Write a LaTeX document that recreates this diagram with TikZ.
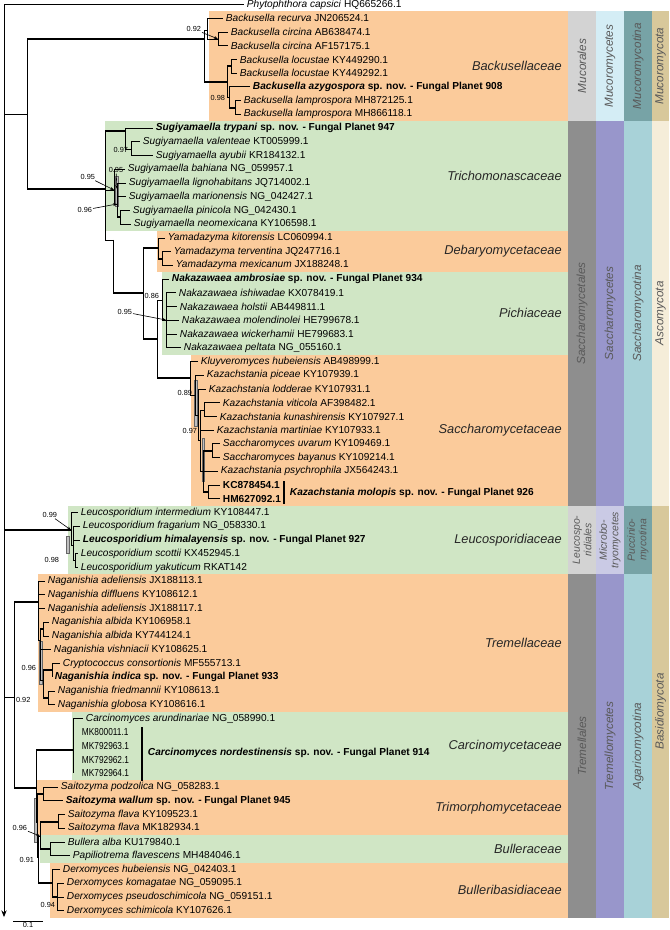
\documentclass[tikz,border=0pt]{standalone}
\usepackage{fontspec}
\setmainfont{Liberation Sans}
\usepackage{graphicx}
\usetikzlibrary{arrows.meta,calc}
\definecolor{famorange}{HTML}{FBCB9B}
\definecolor{famgreen}{HTML}{D0E6C5}
\definecolor{ordlight}{HTML}{D3D3D3}
\definecolor{orddark}{HTML}{8E8E8E}
\definecolor{clsblue}{HTML}{D4EDF5}
\definecolor{clspurple}{HTML}{9896CB}
\definecolor{clslav}{HTML}{CACAE5}
\definecolor{subdark}{HTML}{77A3A6}
\definecolor{sublight}{HTML}{A8D2D8}
\definecolor{phytan}{HTML}{D8C89B}
\definecolor{phycream}{HTML}{F5EDD9}
\newcommand{\narrowacc}[1]{\scalebox{0.82}[1]{#1}}
\tikzset{
  br/.style={line width=0.6pt,draw=black},
  thk/.style={line width=2pt,draw=black},
  leaf/.style={anchor=west,font=\fontsize{7.6}{9}\selectfont,inner xsep=2pt,inner ysep=0pt},
  fam/.style={anchor=east,font=\fontsize{9.6}{11}\selectfont\itshape,text=black!85,inner sep=0pt},
  ranklab/.style={rotate=90,font=\fontsize{8.8}{10}\selectfont\itshape,text=black!65,inner sep=0pt},
  ranksmall/.style={rotate=90,align=center,font=\fontsize{7.8}{8.6}\selectfont\itshape,text=black!65,inner sep=0pt},
  sup/.style={font=\fontsize{5.5}{6}\selectfont,inner sep=0.6pt},
  suparr/.style={-{Stealth[length=3pt,width=2.2pt]},line width=0.45pt},
  nbar/.style={draw=black!60,fill=gray!50,line width=0.3pt},
  clbar/.style={line width=2.2pt,draw=black},
}
\begin{document}
\begin{tikzpicture}[x=0.75pt,y=-0.75pt]
\useasboundingbox (0,0) rectangle (669,930);

% family boxes
\foreach \xa/\ya/\yb/\col in {209/11/121.2/famorange, 105/121.2/231/famgreen,
    157/231/272.2/famorange, 162/272.2/354.6/famgreen, 191/354.6/505.6/famorange,
    68/505.6/574.3/famgreen, 38/574.3/711.6/famorange, 72/711.6/780.2/famgreen,
    37/780.2/835.2/famorange, 40/835.2/862.6/famgreen, 50/862.6/917.5/famorange}
  \fill[\col] (\xa,\ya) rectangle (568,\yb);

% rank columns
\foreach \xa/\ya/\yb/\col in {568/11/121.2/ordlight, 568/121.2/505.6/orddark,
    568/505.6/574.3/ordlight, 568/574.3/917.5/orddark,
    596/11/121.2/clsblue, 596/121.2/505.6/clspurple,
    596/505.6/574.3/clslav, 596/574.3/917.5/clspurple,
    624/11/121.2/subdark, 624/121.2/505.6/sublight,
    624/505.6/574.3/subdark, 624/574.3/917.5/sublight}
  \fill[\col] (\xa,\ya) rectangle ({\xa+28},\yb);
\foreach \ya/\yb/\col in {11/121.2/phytan, 121.2/505.6/phycream, 505.6/917.5/phytan}
  \fill[\col] (652,\ya) rectangle (669,\yb);

\foreach \nm/\x/\y/\txt in {mucor/582/66.1/Mucorales, sacchs/582/313.4/Saccharomycetales,
    tremls/582/746/Tremellales, mucmy/610/66.1/Mucoromycetes,
    sacmy/610/313.4/Saccharomycetes, tremmy/610/746/Tremellomycetes,
    mucti/638/66.1/Mucoromycotina, sacti/638/313.4/Saccharomycotina,
    agati/638/746/Agaricomycotina, mucota/660.5/66.1/Mucoromycota,
    ascota/660.5/313.4/Ascomycota, basota/660.5/711.5/Basidiomycota}
  \node[ranklab] (\nm) at (\x,\y) {\txt};
\node[ranksmall] (leuls) at (582,540) {Leucospo-\\ridiales};
\node[ranksmall] (micmy) at (610,540) {Microbo-\\tryomycetes};
\node[ranksmall] (pucti) at (638,540) {Puccinio-\\mycotina};

% family names
\foreach \nm/\y/\txt in {backf/66.1/Backusellaceae, trichf/176.1/Trichomonascaceae,
    debf/251.6/Debaryomycetaceae, pichf/313.4/Pichiaceae, saccf/430.1/Saccharomycetaceae,
    leucf/540/Leucosporidiaceae, tremf/643/Tremellaceae, carcf/745.9/Carcinomycetaceae,
    trimf/807.7/Trimorphomycetaceae, bullf/848.9/Bulleraceae, bullbf/890/Bulleribasidiaceae}
  \node[fam] (\nm) at (562,\y) {\txt};

% node bars
\foreach \xa/\ya/\xb/\yb in {115.5/176/118.5/206, 194.5/380/197.5/426, 202/438/204.5/481,
    66.5/536/69.5/553, 39.5/641/42/684, 34.5/798/37/842}
  \filldraw[nbar] (\xa,\ya) rectangle (\xb,\yb);

% leaves
\foreach \i/\tx/\txt in {
  0/244/{\textit{Phytophthora capsici} HQ665266.1},
  1/223/{\textit{Backusella recurva} JN206524.1},
  2/228/{\textit{Backusella circina} AB638474.1},
  3/228/{\textit{Backusella circina} AF157175.1},
  4/237/{\textit{Backusella locustae} KY449290.1},
  5/237/{\textit{Backusella locustae} KY449292.1},
  6/250/{\textbf{\textit{Backusella azygospora} sp. nov. - Fungal Planet 908}},
  7/241/{\textit{Backusella lamprospora} MH872125.1},
  8/241/{\textit{Backusella lamprospora} MH866118.1},
  9/153/{\textbf{\textit{Sugiyamaella trypani} sp. nov. - Fungal Planet 947}},
  10/140/{\textit{Sugiyamaella valenteae} KT005999.1},
  11/153/{\textit{Sugiyamaella ayubii} KR184132.1},
  12/125/{\textit{Sugiyamaella bahiana} NG\_059957.1},
  13/126/{\textit{Sugiyamaella lignohabitans} JQ714002.1},
  14/126/{\textit{Sugiyamaella marionensis} NG\_042427.1},
  15/130/{\textit{Sugiyamaella pinicola} NG\_042430.1},
  16/131/{\textit{Sugiyamaella neomexicana} KY106598.1},
  17/165/{\textit{Yamadazyma kitorensis} LC060994.1},
  18/171/{\textit{Yamadazyma terventina} JQ247716.1},
  19/173/{\textit{Yamadazyma mexicanum} JX188248.1},
  20/169/{\textbf{\textit{Nakazawaea ambrosiae} sp. nov. - Fungal Planet 934}},
  21/176/{\textit{Nakazawaea ishiwadae} KX078419.1},
  22/177/{\textit{Nakazawaea holstii} AB449811.1},
  23/179/{\textit{Nakazawaea molendinolei} HE799678.1},
  24/177/{\textit{Nakazawaea wickerhamii} HE799683.1},
  25/181/{\textit{Nakazawaea peltata} NG\_055160.1},
  26/198/{\textit{Kluyveromyces hubeiensis} AB498999.1},
  27/204/{\textit{Kazachstania piceae} KY107939.1},
  28/206/{\textit{Kazachstania lodderae} KY107931.1},
  29/220/{\textit{Kazachstania viticola} AF398482.1},
  30/217/{\textit{Kazachstania kunashirensis} KY107927.1},
  31/214/{\textit{Kazachstania martiniae} KY107933.1},
  32/220/{\textit{Saccharomyces uvarum} KY109469.1},
  33/220/{\textit{Saccharomyces bayanus} KY109214.1},
  34/218/{\textit{Kazachstania psychrophila} JX564243.1},
  35/220/{\textbf{KC878454.1}},
  36/220/{\textbf{HM627092.1}},
  37/78/{\textit{Leucosporidium intermedium} KY108447.1},
  38/80/{\textit{Leucosporidium fragarium} NG\_058330.1},
  39/80/{\textbf{\textit{Leucosporidium himalayensis} sp. nov. - Fungal Planet 927}},
  40/78/{\textit{Leucosporidium scottii} KX452945.1},
  41/78/{\textit{Leucosporidium yakuticum} RKAT142},
  42/45/{\textit{Naganishia adeliensis} JX188113.1},
  43/45/{\textit{Naganishia diffluens} KY108612.1},
  44/45/{\textit{Naganishia adeliensis} JX188117.1},
  45/49/{\textit{Naganishia albida} KY106958.1},
  46/49/{\textit{Naganishia albida} KY744124.1},
  47/51/{\textit{Naganishia vishniacii} KY108625.1},
  48/60/{\textit{Cryptococcus consortionis} MF555713.1},
  49/52/{\textbf{\textit{Naganishia indica} sp. nov. - Fungal Planet 933}},
  50/55/{\textit{Naganishia friedmannii} KY108613.1},
  51/55/{\textit{Naganishia globosa} KY108616.1},
  52/83/{\textit{Carcinomyces arundinariae} NG\_058990.1},
  53/79/{\narrowacc{MK800011.1}},
  54/79/{\narrowacc{MK792963.1}},
  55/79/{\narrowacc{MK792962.1}},
  56/79/{\narrowacc{MK792964.1}},
  57/58/{\textit{Saitozyma podzolica} NG\_058283.1},
  58/63/{\textbf{\textit{Saitozyma wallum} sp. nov. - Fungal Planet 945}},
  59/65/{\textit{Saitozyma flava} KY109523.1},
  60/65/{\textit{Saitozyma flava} MK182934.1},
  61/65/{\textit{Bullera alba} KU179840.1},
  62/70/{\textit{Papiliotrema flavescens} MH484046.1},
  63/60/{\textit{Derxomyces hubeiensis} NG\_042403.1},
  64/64/{\textit{Derxomyces komagatae} NG\_059095.1},
  65/64/{\textit{Derxomyces pseudoschimicola} NG\_059151.1},
  66/64/{\textit{Derxomyces schimicola} KY107626.1}}{
  \coordinate (t\i) at (\tx,{4.5+13.73*\i});
  \node[leaf] (lab\i) at (t\i) {\txt};
}

% clade bars for the new species
\coordinate (kzA) at (284,481); \coordinate (kzB) at (284,504);
\draw[clbar] (kzA) -- (kzB);
\node[leaf] (molopis) at (287,492.5) {\textbf{\textit{Kazachstania molopis} sp. nov. - Fungal Planet 926}};
\coordinate (caA) at (142,727); \coordinate (caB) at (142,781);
\draw[clbar] (caA) -- (caB);
\node[leaf] (nordest) at (145,752.8) {\textbf{\textit{Carcinomyces nordestinensis} sp. nov. - Fungal Planet 914}};

% internal nodes
\foreach \n/\x/\y in {root/4/4.5, mucasc/27/114,
    backus/204/39, recirc/207/30, circ/218/39, locla/227/82, locus/231/66, azyg/229/97, lampro/235/108,
    saccha/105/189, tryp/125/131, valay/131/149, sug1/114/190, sug2/117/204, pinneo/120/217,
    dzero/113/240, dps/143/293, deb/158/248, yam/162/259, ps/157/339, pich/162/300, pich2/166/320,
    sacc/190/378, kz1/195/395, kz2/198/415, kz3/200/440, kz4/204/410, kz5/203/471, sacsac/212/451, kzmol/208/492,
    leu1/71/530, leu2/73/545, leu3/75/560,
    agar/14/697, trem/38/602, nag1/40/640, nalb/43/629, nag2/43/680, ncry/52/670, nfg/48/698,
    bas1/36/788, carc/73/750, bas2/37/822, sai1/43/794, bas3/38/857, bas4/40/836, sai2/58/822,
    bull/50/849, derx/52/883, derx2/57/897}
  \coordinate (\n) at (\x,\y);
\coordinate (rootend) at (4,917);
\coordinate (a95) at (117,189);

% branches
\draw[br,-{Stealth[length=5pt,width=4pt]}] (root) -- (rootend);
\foreach \p/\c in {root/t0, root/mucasc, root/leu1, root/agar, mucasc/backus, mucasc/saccha,
    backus/recirc, backus/locla, recirc/t1, recirc/circ, circ/t2, circ/t3,
    locla/locus, locla/azyg, locus/t4, locus/t5, azyg/t6, azyg/lampro, lampro/t7, lampro/t8,
    saccha/tryp, saccha/sug1, saccha/dzero, tryp/t9, tryp/valay, valay/t10, valay/t11,
    sug1/t12, sug1/sug2, sug2/t13, sug2/t14, sug2/pinneo, pinneo/t15, pinneo/t16,
    dzero/dps, dps/deb, dps/ps, deb/t17, deb/yam, yam/t18, yam/t19,
    ps/pich, ps/sacc, pich/t20, pich/pich2, pich2/t21, pich2/t22, pich2/t23, pich2/t24, pich2/t25,
    sacc/t26, sacc/kz1, kz1/t27, kz1/kz2, kz2/t28, kz2/kz3, kz3/kz4, kz3/t31, kz3/kz5,
    kz4/t29, kz4/t30, kz5/sacsac, kz5/t34, kz5/kzmol, sacsac/t32, sacsac/t33, kzmol/t35, kzmol/t36,
    leu1/t37, leu1/leu2, leu2/t38, leu2/t39, leu2/leu3, leu3/t40, leu3/t41,
    agar/trem, agar/bas1, trem/t42, trem/t43, trem/t44, trem/nag1, nag1/nalb, nag1/t47, nag1/nag2,
    nalb/t45, nalb/t46, nag2/ncry, nag2/nfg, ncry/t48, ncry/t49, nfg/t50, nfg/t51,
    bas1/carc, bas1/bas2, carc/t52, bas2/sai1, bas2/bas3, sai1/t57, sai1/t58,
    bas3/bas4, bas3/derx, bas4/sai2, bas4/bull, sai2/t59, sai2/t60, bull/t61, bull/t62,
    derx/t63, derx/derx2, derx2/t64, derx2/t65, derx2/t66}
  \draw[br] (\p) |- (\c);
\draw[br] (carc) -- (carc |- t56);
\foreach \p/\c in {mucasc/backus, mucasc/saccha, backus/locla, locla/locus, azyg/lampro,
    saccha/tryp, sug2/pinneo, dzero/dps, dps/deb, deb/yam, dps/ps, ps/sacc,
    kz5/sacsac, kz5/kzmol, root/leu1, agar/trem, agar/bas1, nag1/nalb, nag2/ncry, nag2/nfg,
    bas1/carc, bas2/sai1, bas4/sai2, bas4/bull, bas3/derx, derx/derx2}
  \draw[thk] (\p |- \c) -- (\c);

% posterior probabilities
\node[sup,anchor=east] (pp1) at (202,29) {0.92};
\draw[suparr] (pp1) -- (circ);
\node[sup,anchor=east] (pp2) at (226,98) {0.98};
\node[sup,anchor=east] (pp3) at (129,150) {0.97};
\node[sup,anchor=east] (pp4) at (96,177) {0.95};
\draw[suparr] (pp4) -- (sug1);
\node[sup] (pp5) at (116,170) {0.95};
\draw[suparr] (pp5) -- (a95);
\node[sup,anchor=east] (pp6) at (93,210) {0.96};
\draw[suparr] (pp6) -- (sug2);
\node[sup,anchor=east] (pp7) at (160,296) {0.86};
\node[sup,anchor=east] (pp8) at (133,312) {0.95};
\draw[suparr] (pp8) -- (pich2);
\node[sup,anchor=east] (pp9) at (193,393) {0.89};
\node[sup,anchor=east] (pp10) at (198,431) {0.97};
\node[sup,anchor=east] (pp11) at (58,515) {0.99};
\draw[suparr] (pp11) -- (leu1);
\node[sup,anchor=east] (pp12) at (60,560) {0.98};
\node[sup,anchor=west] (pp13) at (15,700) {0.92};
\node[sup,anchor=east] (pp14) at (37,668) {0.96};
\node[sup,anchor=east] (pp15) at (28,828) {0.96};
\draw[suparr] (pp15) -- (bas4);
\node[sup,anchor=east] (pp16) at (35,860) {0.91};
\node[sup,anchor=east] (pp17) at (56,905) {0.94};

% scale bar
\coordinate (scA) at (13,921); \coordinate (scB) at (43,921);
\draw[br] (scA) -- (scB);
\node[sup,below] (sclab) at ($(scA)!0.5!(scB)$) {0.1};
\end{tikzpicture}
\end{document}
